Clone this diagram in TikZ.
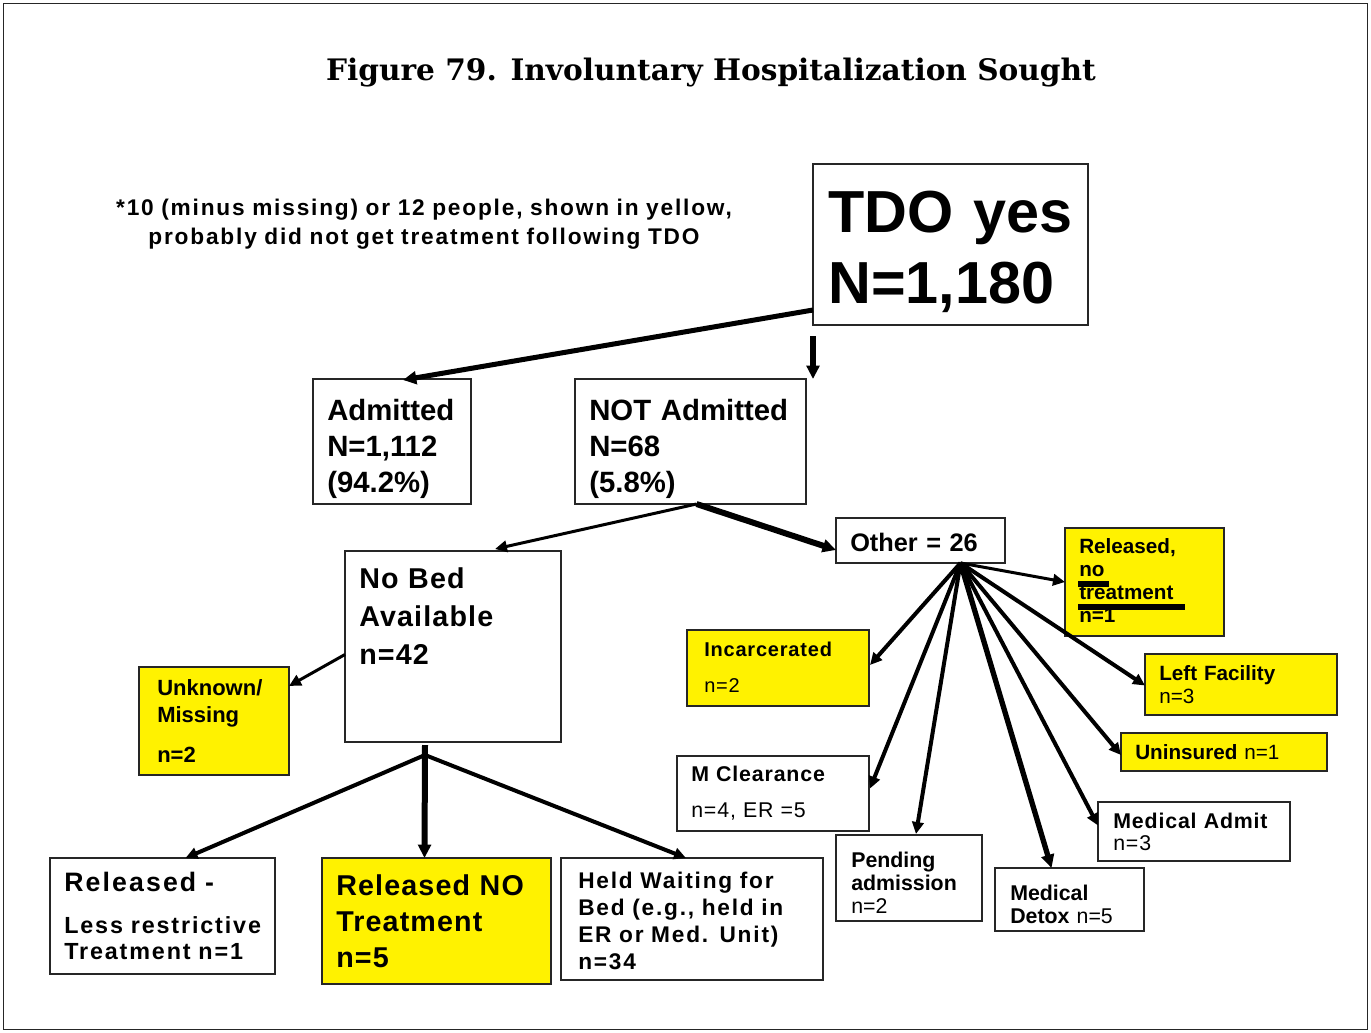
\documentclass[tikz,border=0pt]{standalone}
\usepackage{fontspec}
\setmainfont{Liberation Sans}
\newfontfamily\ttlfont{DejaVu Serif}
\newfontfamily\spA[LetterSpace=4]{Liberation Sans}
\newfontfamily\spB[LetterSpace=8]{Liberation Sans}
\usetikzlibrary{arrows.meta,calc}
\newcommand\fsz[2]{\fontsize{#1}{#2}\selectfont}
\begin{document}
\begin{tikzpicture}[x=0.75pt,y=-0.75pt,
  bx/.style={draw=black!85, line width=0.9pt, inner sep=0pt, outer sep=0pt, anchor=north west},
  ybx/.style={bx, fill=yellow},
  tx/.style={anchor=base west, inner sep=0pt, align=left, text width=#1},
  tx/.default=300pt,
  ar/.style={line width=#1, -{Triangle[length=10pt,width=9.5pt]}},
  sar/.style={line width=#1, -{Triangle[length=9pt,width=8.5pt]}},
]
\useasboundingbox (0,0) rectangle (1371,1032);
\fill[white] (0,0) rectangle (1371,1032);
\draw[line width=1.1pt, black!85] (3.5,3.5) rectangle (1367.5,1029.5);

% title and note
\node[anchor=base, inner sep=0pt, font=\ttlfont\bfseries\fsz{22.2pt}{26pt}] (title) at (711,80) {Figure 79. Involuntary Hospitalization Sought};
\node[anchor=base, inner sep=0pt, align=center, text width=560pt, font=\spB\bfseries\fsz{17pt}{21.75pt}] (note) at (424,215)
  {*10 (minus missing) or 12 people, shown in yellow,\\probably did not get treatment following TDO};

% boxes
\node[bx, minimum width=275*0.75pt, minimum height=161*0.75pt] (tdo) at (813,164) {};
\node[bx, minimum width=158*0.75pt, minimum height=125*0.75pt] (adm) at (313,379) {};
\node[bx, minimum width=231*0.75pt, minimum height=125*0.75pt] (notadm) at (575,379) {};
\node[bx, minimum width=216*0.75pt, minimum height=191*0.75pt] (nobed) at (345,551) {};
\node[bx, minimum width=169*0.75pt, minimum height=45*0.75pt] (other) at (836,518) {};
\node[ybx, minimum width=159*0.75pt, minimum height=108*0.75pt] (relnt) at (1065,528) {};
\node[ybx, minimum width=182*0.75pt, minimum height=76*0.75pt] (incarc) at (687,630) {};
\node[ybx, minimum width=192*0.75pt, minimum height=61*0.75pt] (left) at (1145,654) {};
\node[ybx, minimum width=206*0.75pt, minimum height=38*0.75pt] (unins) at (1121,733) {};
\node[bx, minimum width=192*0.75pt, minimum height=75*0.75pt] (mclear) at (677,756) {};
\node[bx, minimum width=192*0.75pt, minimum height=59*0.75pt] (madmit) at (1098,802) {};
\node[bx, minimum width=146*0.75pt, minimum height=86*0.75pt] (pend) at (836,835) {};
\node[bx, minimum width=149*0.75pt, minimum height=63*0.75pt] (detox) at (995,868) {};
\node[ybx, minimum width=150*0.75pt, minimum height=108*0.75pt] (unk) at (139,667) {};
\node[bx, minimum width=225*0.75pt, minimum height=116*0.75pt] (rel2) at (50,858) {};
\node[ybx, minimum width=229*0.75pt, minimum height=126*0.75pt] (relno) at (322,858) {};
\node[bx, minimum width=262*0.75pt, minimum height=122*0.75pt] (held) at (561,858) {};

% texts
\node[tx, font=\bfseries\fsz{44.5pt}{53.25pt}] (tdo-t) at (828,232) {TDO yes\\N=1,180};
\node[tx, font=\bfseries\fsz{22pt}{27pt}] (adm-t) at (327,420) {Admitted\\N=1,112\\(94.2\%)};
\node[tx, font=\bfseries\fsz{22pt}{27pt}] (notadm-t) at (589,420) {NOT Admitted\\N=68\\(5.8\%)};
\node[tx, font=\spA\bfseries\fsz{21.5pt}{28.5pt}] (nobed-t) at (359,588) {No Bed\\Available\\n=42};
\node[tx, font=\bfseries\fsz{19pt}{22pt}] (other-t) at (850,551) {Other = 26};
\node[tx, font=\bfseries\fsz{15.5pt}{17.25pt}] (relnt-t) at (1079,553) {Released,\\no\\treatment\\n=1};
\fill (1078,581) rectangle (1109,587);
\fill (1078,604) rectangle (1185,610);
\node[tx, font=\spA\bfseries\fsz{15pt}{27pt}] (incarc-t) at (704,656) {Incarcerated\\{\mdseries n=2}};
\node[tx, font=\bfseries\fsz{15.5pt}{17.25pt}] (left-t) at (1159,680) {Left Facility\\{\mdseries n=3}};
\node[tx, font=\bfseries\fsz{15.5pt}{17.25pt}] (unins-t) at (1135,759) {Uninsured {\mdseries n=1}};
\node[tx, font=\spA\bfseries\fsz{16pt}{27.5pt}] (mclear-t) at (691,781) {M Clearance\\{\mdseries n=4, ER =5}};
\node[tx, font=\spA\bfseries\fsz{16pt}{16.5pt}] (madmit-t) at (1113,828) {Medical Admit\\{\mdseries n=3}};
\node[tx, font=\bfseries\fsz{16pt}{17.25pt}] (pend-t) at (851,867) {Pending\\admission\\{\mdseries n=2}};
\node[tx, font=\bfseries\fsz{16pt}{17.25pt}] (detox-t) at (1010,900) {Medical\\Detox {\mdseries n=5}};
\node[tx, font=\bfseries\fsz{16.5pt}{20.25pt}] (unk-t) at (157,695) {Unknown/\\Missing\\[9.75pt]n=2};
\node[tx, font=\spB\bfseries\fsz{20pt}{24pt}] (rel2-t) at (64,891) {Released -};
\node[tx, font=\spB\bfseries\fsz{17.5pt}{19.5pt}] (rel2-u) at (64,933) {Less restrictive\\Treatment n=1};
\node[tx, font=\spA\bfseries\fsz{21.5pt}{27pt}] (relno-t) at (336,895) {Released NO\\Treatment\\n=5};
\node[tx, font=\spB\bfseries\fsz{17pt}{20.25pt}] (held-t) at (578,888) {Held Waiting for\\Bed (e.g., held in\\ER or Med. Unit)\\n=34};

% hubs
\coordinate (ohub) at ($(other.south)+(40,0)$);
\coordinate (bhub) at ($(nobed.south)+(-28,13)$);
\coordinate (nhub) at ($(notadm.south)+(6,0)$);

% connectors
\draw[ar=3.75pt] ($(tdo.south west)+(0,-15)$) -- ($(adm.north)+(11,1)$);
\draw[ar=4.5pt] ($(tdo.south west)+(0,11)$) -- ($(notadm.north east)+(7,0)$);
\draw[sar=2.25pt] (nhub) -- ($(nobed.north)+(42,-2)$);
\draw[ar=4.5pt] (nhub) -- ($(other.south west)+(0,-13)$);
\draw[sar=2.25pt] (ohub) -- (relnt.west);
\draw[sar=3pt] (ohub) -- ($(incarc.east)+(1,-3)$);
\draw[sar=3pt] (ohub) -- ($(mclear.east)+(1,-5)$);
\draw[sar=3pt] (ohub) -- ($(pend.north)+(7,-1)$);
\draw[ar=4pt] (ohub) -- ($(detox.north)+(-18,0)$);
\draw[sar=3pt] (ohub) -- ($(madmit.west)+(0,-6)$);
\draw[sar=3pt] (ohub) -- ($(unins.west)+(0,3)$);
\draw[sar=3pt] (ohub) -- ($(left.west)+(0,1)$);
\draw[sar=2.25pt] ($(nobed.west)+(0,8)$) -- ($(unk.north east)+(0,19)$);
\draw[ar=4.5pt] ($(nobed.south)+(-28,3)$) -- ($(relno.north)+(-12,0)$);
\draw[sar=3pt] (bhub) -- ($(rel2.north)+(23,0)$);
\draw[sar=3pt] (bhub) -- ($(held.north)+(-6,0)$);
\end{tikzpicture}
\end{document}
